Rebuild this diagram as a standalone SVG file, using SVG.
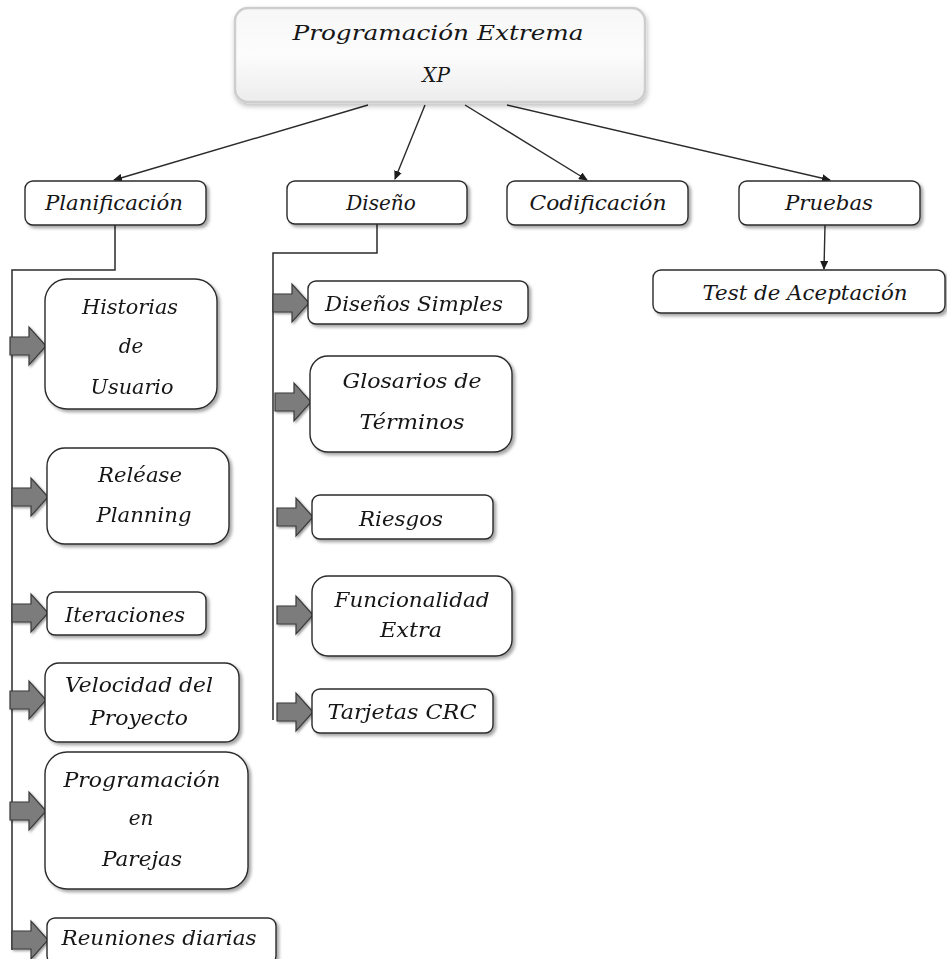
<svg xmlns="http://www.w3.org/2000/svg" xmlns:xlink="http://www.w3.org/1999/xlink" width="947" height="959" viewBox="0 0 947 959">
<style>
.box{fill:#fff;stroke:#2b2b2b;stroke-width:1.4;filter:url(#sh)}
.t{font-family:"DejaVu Serif","Liberation Serif",serif;font-style:italic;font-size:20px;fill:#161616;text-anchor:middle}
.ln{fill:none;stroke:#2b2b2b;stroke-width:1.5}
.ar{fill:none;stroke:#2b2b2b;stroke-width:1.4;marker-end:url(#ah)}
.blk{fill:#7c7c7c;stroke:#3a3a3a;stroke-width:1.2;filter:url(#sh2)}
</style>
<defs>
<filter id="sh" x="-10%" y="-20%" width="125%" height="150%">
<feDropShadow dx="2.5" dy="2.5" stdDeviation="1.5" flood-color="#000" flood-opacity="0.35"/>
</filter>
<filter id="sh2" x="-20%" y="-20%" width="150%" height="150%">
<feDropShadow dx="1.5" dy="1.5" stdDeviation="1" flood-color="#000" flood-opacity="0.4"/>
</filter>
<filter id="shTop" x="-10%" y="-20%" width="120%" height="150%">
<feDropShadow dx="1" dy="3" stdDeviation="2.5" flood-color="#000" flood-opacity="0.25"/>
</filter>
<linearGradient id="gTop" x1="0" y1="0" x2="0" y2="1">
<stop offset="0" stop-color="#f7f7f7"/>
<stop offset="0.5" stop-color="#fcfcfc"/>
<stop offset="1" stop-color="#ececec"/>
</linearGradient>
<marker id="ah" markerWidth="9" markerHeight="8" refX="8" refY="4" orient="auto" markerUnits="userSpaceOnUse">
<path d="M0,0 L9,4 L0,8 Z" fill="#1c1c1c"/>
</marker>
<path id="blkShape" d="M-36,-9 H-17 V-19 L0,0 L-17,19 V9 H-36 Z"/>
</defs>

<g id="connectors">
<line class="ar" x1="368" y1="105" x2="114" y2="180"/>
<line class="ar" x1="425" y1="105" x2="395" y2="179"/>
<line class="ar" x1="465" y1="105" x2="587" y2="180"/>
<line class="ar" x1="507" y1="105" x2="830" y2="180"/>
<line class="ar" x1="825" y1="225" x2="824" y2="269"/>
<polyline class="ln" points="115,225 115,270 12,270 12,950"/>
<polyline class="ln" points="377,224 377,253 273,253 273,720"/>
<g class="blk">
<use xlink:href="#blkShape" x="46" y="346"/>
<use xlink:href="#blkShape" x="48" y="497"/>
<use xlink:href="#blkShape" x="48" y="613"/>
<use xlink:href="#blkShape" x="46" y="700"/>
<use xlink:href="#blkShape" x="46" y="811"/>
<use xlink:href="#blkShape" x="48" y="940"/>
<use xlink:href="#blkShape" x="309" y="303"/>
<use xlink:href="#blkShape" x="311" y="402"/>
<use xlink:href="#blkShape" x="313" y="517"/>
<use xlink:href="#blkShape" x="313" y="615"/>
<use xlink:href="#blkShape" x="313" y="712"/>
</g>
</g>

<g id="xp">
<rect x="235" y="8" width="410" height="94" rx="13" fill="url(#gTop)" stroke="#cdcdcd" stroke-width="2.5" filter="url(#shTop)"/>
<text class="t" x="438" y="40" textLength="291" lengthAdjust="spacingAndGlyphs" font-size="22">Programación Extrema</text>
<text class="t" x="436" y="82" font-size="22">XP</text>
</g>

<g id="planificacion">
<rect class="box" x="25" y="181" width="181" height="44" rx="8"/>
<text class="t" x="114" y="210" textLength="138" lengthAdjust="spacingAndGlyphs">Planificación</text>
</g>
<g id="diseno">
<rect class="box" x="287" y="181" width="180" height="43" rx="8"/>
<text class="t" x="381" y="210">Diseño</text>
</g>
<g id="codificacion">
<rect class="box" x="507" y="181" width="181" height="44" rx="8"/>
<text class="t" x="598" y="210" textLength="137" lengthAdjust="spacingAndGlyphs">Codificación</text>
</g>
<g id="pruebas">
<rect class="box" x="739" y="181" width="181" height="44" rx="8"/>
<text class="t" x="829" y="210" textLength="88" lengthAdjust="spacingAndGlyphs">Pruebas</text>
</g>
<g id="test-aceptacion">
<rect class="box" x="653" y="270" width="292" height="43" rx="8"/>
<text class="t" x="805" y="300" textLength="205" lengthAdjust="spacingAndGlyphs">Test de Aceptación</text>
</g>

<g id="historias">
<rect class="box" x="45" y="279" width="172" height="130" rx="22"/>
<text class="t" x="130" y="314" textLength="96" lengthAdjust="spacingAndGlyphs">Historias</text>
<text class="t" x="131" y="353">de</text>
<text class="t" x="132" y="394" textLength="83" lengthAdjust="spacingAndGlyphs">Usuario</text>
</g>
<g id="release">
<rect class="box" x="47" y="448" width="182" height="96" rx="18"/>
<text class="t" x="140" y="482" textLength="84" lengthAdjust="spacingAndGlyphs">Reléase</text>
<text class="t" x="144" y="522" textLength="95" lengthAdjust="spacingAndGlyphs">Planning</text>
</g>
<g id="iteraciones">
<rect class="box" x="47" y="592" width="159" height="43" rx="8"/>
<text class="t" x="125" y="622" textLength="120" lengthAdjust="spacingAndGlyphs">Iteraciones</text>
</g>
<g id="velocidad">
<rect class="box" x="45" y="663" width="194" height="79" rx="14"/>
<text class="t" x="139" y="692" textLength="148" lengthAdjust="spacingAndGlyphs">Velocidad del</text>
<text class="t" x="139" y="725" textLength="98" lengthAdjust="spacingAndGlyphs">Proyecto</text>
</g>
<g id="parejas">
<rect class="box" x="45" y="752" width="203" height="137" rx="22"/>
<text class="t" x="142" y="787" textLength="157" lengthAdjust="spacingAndGlyphs">Programación</text>
<text class="t" x="141" y="825">en</text>
<text class="t" x="142" y="866" textLength="80" lengthAdjust="spacingAndGlyphs">Parejas</text>
</g>
<g id="reuniones">
<rect class="box" x="47" y="918" width="229" height="46" rx="8"/>
<text class="t" x="159" y="945" textLength="195" lengthAdjust="spacingAndGlyphs">Reuniones diarias</text>
</g>

<g id="disenos-simples">
<rect class="box" x="308" y="281" width="220" height="43" rx="8"/>
<text class="t" x="414" y="311" textLength="178" lengthAdjust="spacingAndGlyphs">Diseños Simples</text>
</g>
<g id="glosarios">
<rect class="box" x="310" y="356" width="202" height="96" rx="18"/>
<text class="t" x="412" y="388" textLength="139" lengthAdjust="spacingAndGlyphs">Glosarios de</text>
<text class="t" x="412" y="429" textLength="105" lengthAdjust="spacingAndGlyphs">Términos</text>
</g>
<g id="riesgos">
<rect class="box" x="312" y="495" width="181" height="44" rx="8"/>
<text class="t" x="401" y="526" textLength="84" lengthAdjust="spacingAndGlyphs">Riesgos</text>
</g>
<g id="funcionalidad">
<rect class="box" x="312" y="576" width="200" height="80" rx="16"/>
<text class="t" x="412" y="607" textLength="155" lengthAdjust="spacingAndGlyphs">Funcionalidad</text>
<text class="t" x="411" y="637" textLength="62" lengthAdjust="spacingAndGlyphs">Extra</text>
</g>
<g id="tarjetas">
<rect class="box" x="312" y="689" width="181" height="44" rx="8"/>
<text class="t" x="402" y="719" textLength="149" lengthAdjust="spacingAndGlyphs">Tarjetas CRC</text>
</g>
</svg>
